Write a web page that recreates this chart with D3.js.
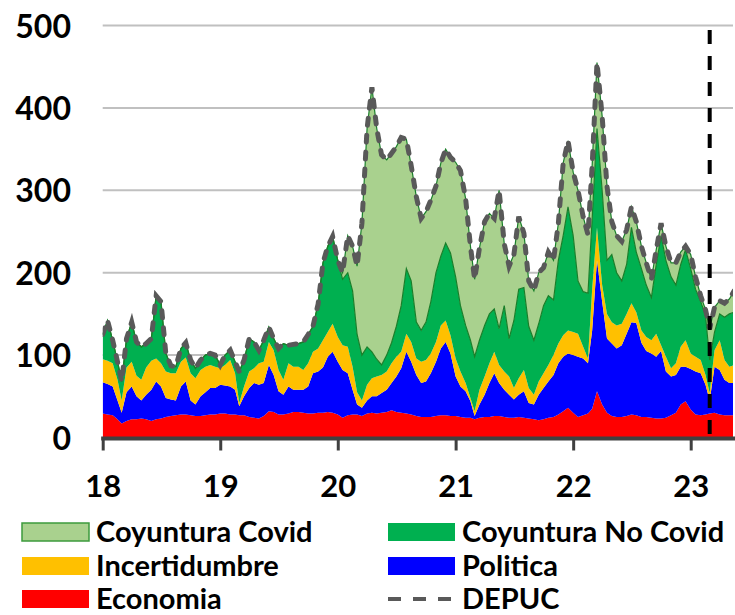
<!DOCTYPE html>
<html><head><meta charset="utf-8">
<script src="https://cdn.jsdelivr.net/npm/d3@7"></script>
<style>html,body{margin:0;padding:0;background:#fff;} svg{display:block;}</style>
</head><body><svg id="c" width="735" height="615"></svg>
<script>
// ---------------- DATA ----------------
const yearLabels = ["18","19","20","21","22","23"];
const yTickValues = [0,100,200,300,400,500];
const cutoffDate = "2023-03-01";
// semi-monthly observations starting 2018-01-01 (1st and 16th of each month)
const economia = [29,28,27,22,17,20,22,22,23,22, 20,22,23,25,26,27,28,28,27,26,
  26,27,28,28,29,29,28,28,27,27, 25,24,23,26,32,31,28,28,29,31,
  31,30,29,29,30,30,31,30,28,24, 27,28,28,26,29,30,29,30,31,33,
  31,30,29,28,26,25,25,25,26,27, 27,26,26,25,24,24,22,24,25,25,
  26,26,25,24,24,25,24,23,22,21, 22,24,25,28,32,36,30,25,27,29,
  35,56,40,30,26,25,25,26,28,27, 25,25,24,23,23,24,27,30,40,44,
  34,28,27,28,29,30,28,27,27,27];
const politica = [38,37,35,23,13,35,40,28,22,30, 38,46,39,23,20,18,34,40,18,14,
  24,28,32,32,35,34,34,30,11,23, 35,42,41,40,56,45,28,24,33,27,
  27,28,33,49,50,55,67,74,64,58, 51,30,12,10,16,20,21,24,27,33,
  43,54,75,64,50,41,43,53,66,81, 89,76,48,37,32,20,4,16,27,41,
  52,40,33,28,22,27,32,19,18,31, 38,44,51,62,66,66,70,73,69,61,
  95,159,125,90,88,83,87,100,112,112, 90,80,78,75,82,56,47,46,46,42,
  49,52,51,36,16,56,54,43,39,39];
const incertidumbre = [28,28,28,25,15,30,30,25,25,33, 35,28,28,32,32,33,30,29,33,32,
  32,31,28,26,20,25,32,20,4,12, 20,18,26,26,28,30,26,18,28,28,
  28,24,28,26,28,33,30,34,30,30, 32,28,15,9,19,22,24,22,22,24,
  24,20,22,24,20,26,26,24,24,28, 26,22,22,18,10,4,6,18,22,24,
  26,22,22,22,14,20,26,18,12,16, 18,20,24,24,26,28,28,28,14,6,
  50,40,20,30,26,28,26,24,23,13, 15,17,16,28,7,18,10,14,24,32,
  19,18,16,12,9,20,36,24,20,22];
const coyunturaNoCovid = [30,49,28,22,23,35,48,41,40,29, 27,76,75,22,9,8,16,18,16,12,
  12,14,14,14,4,12,12,14,38,32, 40,32,16,26,18,14,26,44,22,27,
  28,34,35,31,54,94,104,106,93,80, 90,92,70,55,46,32,21,12,20,25,
  37,56,79,74,44,38,46,63,84,84, 94,100,99,80,70,70,66,60,62,60,
  52,44,80,46,82,108,100,75,66,70, 82,84,67,101,121,150,117,64,67,79,
  85,120,115,65,82,64,52,60,92,73, 75,63,52,84,133,117,111,95,100,110,
  103,82,71,72,40,22,32,52,64,64];
const coyunturaCovid = [0,0,0,0,0,0,0,0,0,0, 0,0,0,0,0,0,0,0,0,0,
  0,0,0,0,0,0,0,0,0,0, 0,0,0,0,0,0,0,0,0,0,
  0,0,0,0,0,0,0,0,0,8, 45,54,83,160,265,321,280,255,237,230,
  218,204,157,140,152,136,134,123,105,113, 114,116,139,164,154,114,94,112,126,122,
  110,168,75,88,80,88,66,55,60,62, 46,53,48,45,88,80,77,110,91,71,
  65,80,90,90,40,45,48,42,25,37, 27,27,22,18,15,17,17,27,15,4,
  17,15,7,7,38,30,16,17,18,26];

const keys = ["economia","politica","incertidumbre","noCovid","covid"];
const colors = {economia:"#ff0000", politica:"#0000ff", incertidumbre:"#ffc000", noCovid:"#00b050", covid:"#a9d18e"};

// ---------------- CHART ----------------
const svg = d3.select("#c");
const W = 735, left = 102.7, right = 733, yZero = 437.5, yTop = 25.5;
const FONT = "Lato, 'Open Sans', sans-serif";
const x = d3.scaleTime().domain([new Date(2018,0,1), new Date(2023,0,1)]).range([left, 690.7]);
const y = d3.scaleLinear().domain([0,500]).range([yZero, yTop]);

const dates = economia.map((_, i) => {
  const d = d3.timeMonth.offset(new Date(2018,0,1), Math.floor(i/2));
  if (i % 2) d.setDate(16);
  return d;
});
const rows = dates.map((d,i) => ({date:d, economia:economia[i], politica:politica[i],
  incertidumbre:incertidumbre[i], noCovid:coyunturaNoCovid[i], covid:coyunturaCovid[i]}));
const stacked = d3.stack().keys(keys)(rows);

svg.append("defs").append("clipPath").attr("id","clip")
  .append("rect").attr("x", left).attr("y", 0).attr("width", right-left).attr("height", yZero+1);

// gridlines
svg.append("g").selectAll("line").data(yTickValues.filter(v=>v>0)).join("line")
  .attr("x1", left).attr("x2", right).attr("y1", d=>y(d)).attr("y2", d=>y(d))
  .attr("stroke","#c0c0c0").attr("stroke-width",2);

const plot = svg.append("g").attr("clip-path","url(#clip)");
const area = d3.area().x(d=>x(d.data.date)).y0(d=>y(d[0])).y1(d=>y(d[1]));
plot.selectAll("path.layer").data(stacked).join("path").attr("class","layer")
  .attr("fill", d=>colors[d.key]).attr("d", area);

const topLine = d3.line().x(d=>x(d.data.date)).y(d=>y(d[1]));
// thin dark green outlines on top of green layers
plot.append("path").datum(stacked[3]).attr("d", topLine).attr("fill","none")
  .attr("stroke","#1a7f2a").attr("stroke-width",1.2);
plot.append("path").datum(stacked[4]).attr("d", topLine).attr("fill","none")
  .attr("stroke","#1a7f2a").attr("stroke-width",1.2);
// DEPUC dashed total
plot.append("path").datum(stacked[4]).attr("d", topLine).attr("fill","none")
  .attr("stroke","#595959").attr("stroke-width",5).attr("stroke-dasharray","7,10")
  .attr("stroke-linecap","round");

// vertical cutoff dashed line
const cx = x(new Date(cutoffDate));
svg.append("line").attr("x1",cx).attr("x2",cx).attr("y1",30).attr("y2",yZero)
  .attr("stroke","#000").attr("stroke-width",4).attr("stroke-dasharray","14,12");

// x axis
const yearDates = yearLabels.map(s => new Date(2000+ +s, 0, 1));
const xAxis = svg.append("g").attr("transform",`translate(0,${yZero})`)
  .call(d3.axisBottom(x).tickValues(yearDates).tickFormat((d,i)=>yearLabels[i]).tickSize(13).tickSizeOuter(0));
xAxis.select(".domain").remove();
xAxis.selectAll(".tick line").attr("stroke","#404040").attr("stroke-width",3);
xAxis.selectAll(".tick text").attr("y",59).attr("dy",0)
  .attr("font-family",FONT).attr("font-weight","bold")
  .attr("font-size",31).attr("fill","#000");
svg.append("line").attr("x1",left-1.5).attr("x2",W).attr("y1",yZero+1).attr("y2",yZero+1)
  .attr("stroke","#404040").attr("stroke-width",4);

// y axis labels
const yAxis = svg.append("g").attr("transform","translate(71,0)")
  .call(d3.axisLeft(y).tickValues(yTickValues).tickSize(0).tickPadding(0));
yAxis.select(".domain").remove();
yAxis.selectAll(".tick text").attr("dy","0.36em")
  .attr("font-family",FONT).attr("font-weight","bold")
  .attr("font-size",32).attr("fill","#000");

// legend
const legendItems = [
  {label:"Coyuntura Covid", key:"covid", col:0, row:0},
  {label:"Coyuntura No Covid", key:"noCovid", col:1, row:0},
  {label:"Incertidumbre", key:"incertidumbre", col:0, row:1},
  {label:"Politica", key:"politica", col:1, row:1},
  {label:"Economia", key:"economia", col:0, row:2},
  {label:"DEPUC", key:"depuc", col:1, row:2}
];
const colX = [22, 388], rowY = [532, 566, 599];
const lg = svg.append("g");
legendItems.forEach(it => {
  const gx = colX[it.col], gy = rowY[it.row];
  if (it.key === "depuc") {
    lg.append("line").attr("x1", gx).attr("x2", gx+67).attr("y1", gy).attr("y2", gy)
      .attr("stroke","#595959").attr("stroke-width",4).attr("stroke-dasharray","13,12");
  } else {
    lg.append("rect").attr("x", gx).attr("y", gy-9).attr("width",67).attr("height",18)
      .attr("fill", colors[it.key])
      .attr("stroke", it.key==="covid" ? "#3c9a3c" : "none").attr("stroke-width",1.5);
  }
  lg.append("text").attr("x", gx+74).attr("y", gy+9.5).text(it.label)
    .attr("font-family",FONT).attr("font-weight","bold")
    .attr("font-size",29).attr("fill","#000");
});
</script></body></html>
